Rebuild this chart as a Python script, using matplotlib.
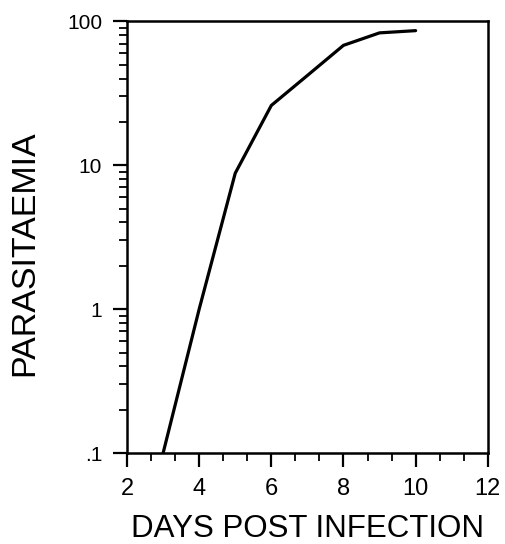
import numpy as np
from matplotlib import pyplot as plt
from matplotlib.ticker import MultipleLocator, LogLocator, FixedLocator, NullFormatter

days = [3, 4, 5, 6, 7, 8, 9, 10]
parasitaemia = [0.1, 1.0, 8.8, 26, 42, 68, 83, 86]

xticks = [2, 4, 6, 8, 10, 12]
yticks = [0.1, 1, 10, 100]
ytick_labels = [".1", "1", "10", "100"]


def main():
    plt.rcParams['font.family'] = ['Liberation Sans', 'DejaVu Sans']

    fig = plt.figure(figsize=(5.06, 5.44), dpi=100)
    ax = fig.add_axes([0.251, 0.167, 0.713, 0.794])

    ax.plot(days, parasitaemia, color='black', lw=2.3, solid_capstyle='round')

    ax.set_yscale('log')
    ax.set_xlim(2, 12)
    ax.set_ylim(0.1, 100)

    ax.xaxis.set_major_locator(FixedLocator(xticks))
    ax.xaxis.set_minor_locator(MultipleLocator(2 / 3))
    ax.set_xticklabels([str(t) for t in xticks])
    ax.yaxis.set_major_locator(FixedLocator(yticks))
    ax.yaxis.set_minor_locator(LogLocator(base=10, subs=np.arange(2, 10)))
    ax.yaxis.set_minor_formatter(NullFormatter())
    ax.set_yticklabels(ytick_labels)

    ax.tick_params(which='major', direction='out', length=10, width=1.6)
    ax.tick_params(which='minor', direction='out', length=5.5, width=1.3)
    ax.tick_params(axis='y', which='major', labelsize=15, pad=8)
    ax.tick_params(axis='x', which='major', labelsize=17, pad=8)
    for s in ax.spines.values():
        s.set_linewidth(1.8)

    ax.set_xlabel("DAYS POST INFECTION", fontsize=22.5, labelpad=10)
    ax.set_ylabel("PARASITAEMIA", fontsize=24.5)
    ax.yaxis.set_label_coords(-0.24, 0.463)

    fig.savefig("out.png", dpi=100)


if __name__ == '__main__':
    main()
